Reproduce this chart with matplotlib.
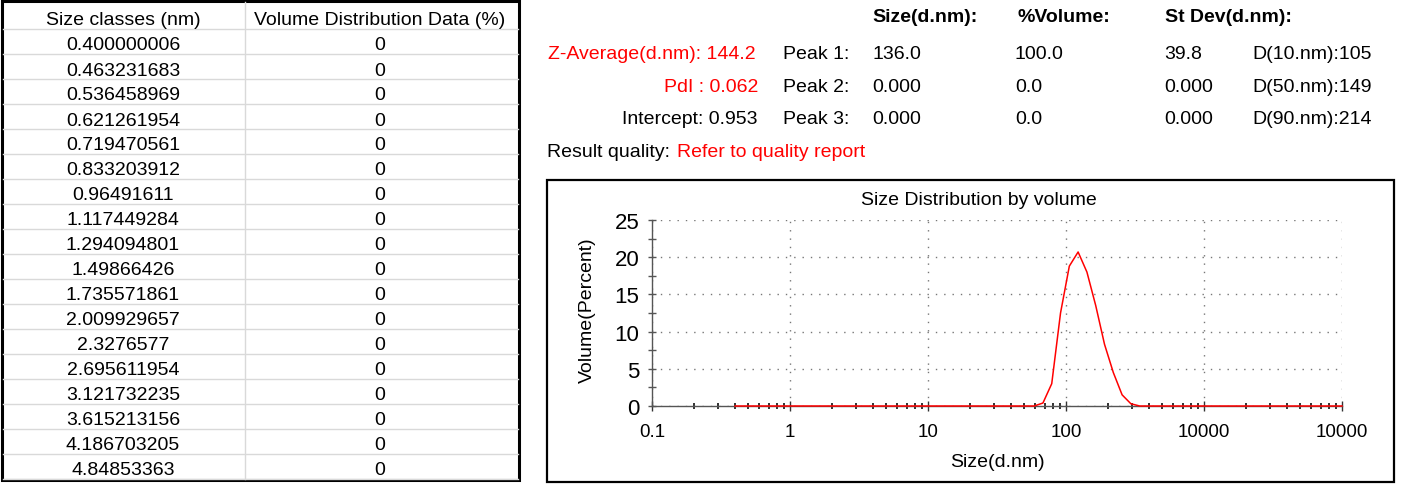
import matplotlib
matplotlib.use("Agg")
from matplotlib import pyplot as plt
from matplotlib.ticker import LogLocator, MultipleLocator, NullFormatter
from matplotlib.patches import Rectangle

plt.rcParams['font.family'] = ['Liberation Sans', 'DejaVu Sans']

# table on the left
size_classes = ["0.400000006", "0.463231683", "0.536458969", "0.621261954",
                "0.719470561", "0.833203912", "0.96491611", "1.117449284",
                "1.294094801", "1.49866426", "1.735571861", "2.009929657",
                "2.3276577", "2.695611954", "3.121732235", "3.615213156",
                "4.186703205", "4.84853363"]
volume_data = ["0"] * len(size_classes)
table_header = ["Size classes (nm)", "Volume Distribution Data (%)"]

# results block
zavg_text = "Z-Average(d.nm): 144.2"
pdi_text = "PdI : 0.062"
intercept_text = "Intercept: 0.953"
col_heads = ["Size(d.nm):", "%Volume:", "St Dev(d.nm):"]
peak_names = ["Peak 1:", "Peak 2:", "Peak 3:"]
peak_size = ["136.0", "0.000", "0.000"]
peak_volume = ["100.0", "0.0", "0.0"]
peak_stdev = ["39.8", "0.000", "0.000"]
d_values = ["D(10.nm):105", "D(50.nm):149", "D(90.nm):214"]

# size distribution curve
size_nm = [0.4, 58.77, 68.06, 78.82, 91.28, 105.7, 122.4, 141.8, 164.2,
           190.1, 220.2, 255.0, 295.3, 342.0, 10000]
volume_pct = [0, 0, 0.4, 3.0, 12.5, 18.8, 20.7, 18.0, 13.5,
              8.3, 4.5, 1.5, 0.3, 0, 0]
x_ticks = [0.1, 1, 10, 100, 1000, 10000]
x_tick_labels = ["0.1", "1", "10", "100", "10000", "10000"]
y_ticks = [0, 5, 10, 15, 20, 25]

W, H = 1408, 485
fig = plt.figure(figsize=(W / 100, H / 100), dpi=100)

# pixel canvas for table and text
bg = fig.add_axes([0, 0, 1, 1])
bg.set_xlim(0, W)
bg.set_ylim(H, 0)
bg.axis('off')

grid_c = '#d9d9d9'
for i in range(len(size_classes) + 1):
    yl = 29.5 + 25 * i
    if yl < 480:
        bg.plot([3, 518], [yl, yl], color=grid_c, lw=1)
bg.plot([245, 245], [3, 480], color=grid_c, lw=1)
bg.add_patch(Rectangle((2, 2), 517, 479, fill=False, ec='black', lw=2.2))

fs = 14
bg.text(123, 25, table_header[0], ha='center', va='baseline', fontsize=fs)
bg.text(380, 25, table_header[1], ha='center', va='baseline', fontsize=fs)
for i, (s, v) in enumerate(zip(size_classes, volume_data)):
    yb = 50.5 + 25 * i
    bg.text(123, yb, s, ha='center', va='baseline', fontsize=fs)
    bg.text(380, yb, v, ha='center', va='baseline', fontsize=fs)

# results text
red = '#ff0000'
for x, t in zip([872, 1017, 1165], col_heads):
    bg.text(x, 22.5, t, ha='left', va='baseline', fontsize=fs, fontweight='bold')
rows_y = [59, 91.5, 124]
bg.text(756, rows_y[0], zavg_text, ha='right', va='baseline', fontsize=fs, color=red)
bg.text(758, rows_y[1], pdi_text, ha='right', va='baseline', fontsize=fs, color=red)
bg.text(758, rows_y[2], intercept_text, ha='right', va='baseline', fontsize=fs)
for i, yb in enumerate(rows_y):
    bg.text(783, yb, peak_names[i], ha='left', va='baseline', fontsize=fs)
    bg.text(872, yb, peak_size[i], ha='left', va='baseline', fontsize=fs)
    bg.text(1015, yb, peak_volume[i], ha='left', va='baseline', fontsize=fs)
    bg.text(1164, yb, peak_stdev[i], ha='left', va='baseline', fontsize=fs)
    bg.text(1252, yb, d_values[i], ha='left', va='baseline', fontsize=fs)
bg.text(547, 157, "Result quality:", ha='left', va='baseline', fontsize=fs)
bg.text(677, 157, "Refer to quality report", ha='left', va='baseline', fontsize=fs, color=red)

# chart frame and labels
bg.add_patch(Rectangle((547, 181), 847, 302, fill=False, ec='black', lw=1.6))
bg.text(979, 205.5, "Size Distribution by volume", ha='center', va='baseline', fontsize=fs)
bg.text(997, 467, "Size(d.nm)", ha='center', va='baseline', fontsize=fs)
bg.text(587, 310, "Volume(Percent)", ha='center', va='center', rotation=90, fontsize=fs)

# chart axes
x0, x1, y0, y1 = 652, 1342, 221, 407
ax = fig.add_axes([x0 / W, 1 - y1 / H, (x1 - x0) / W, (y1 - y0) / H])
ax.set_xscale('log')
ax.set_xlim(0.1, 10000)
ax.set_ylim(0, 25)
ax.set_facecolor('none')
for s in ['top', 'right']:
    ax.spines[s].set_visible(False)
for s in ['left', 'bottom']:
    ax.spines[s].set_color('#555555')
    ax.spines[s].set_linewidth(1)

ax.set_xticks(x_ticks)
ax.set_xticklabels(x_tick_labels)
ax.xaxis.set_minor_locator(LogLocator(base=10, subs=[2, 3, 4, 5, 6, 7, 8, 9]))
ax.xaxis.set_minor_formatter(NullFormatter())
ax.set_yticks(y_ticks)
ax.yaxis.set_minor_locator(MultipleLocator(2.5))
ax.tick_params(axis='x', which='major', direction='inout', length=7, width=1,
               color='#333333', labelsize=13.5, pad=9)
ax.tick_params(axis='x', which='minor', direction='inout', length=4, width=1.3,
               color='#222222')
ax.tick_params(axis='y', which='both', direction='inout', length=6, width=1,
               color='#555555', labelsize=16, pad=6)

ax.grid(True, which='major', color='#777777', linestyle=(0, (1, 5)), lw=1)
ax.plot(size_nm, volume_pct, color=red, lw=1.1, clip_on=False, zorder=5)

fig.savefig("out.png", dpi=100, facecolor='white')
